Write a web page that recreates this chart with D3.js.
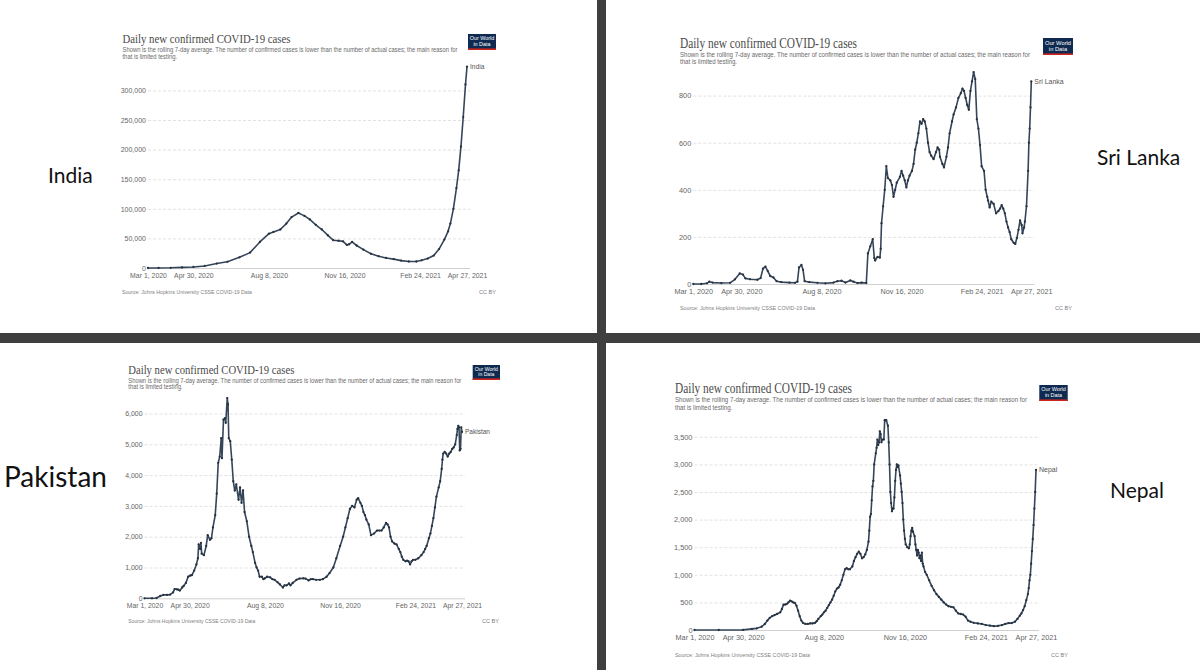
<!DOCTYPE html>
<html><head><meta charset="utf-8">
<script src="https://cdn.jsdelivr.net/npm/d3@7"></script>
<style>body{margin:0;background:#fff;} svg{display:block;}</style>
</head><body>
<svg id="chart" width="1200" height="670"></svg>
<script>
// ---------- data ----------
const startDate = "2020-03-01";
const endDate = "2021-04-27";
const tickDates = ["2020-03-01","2020-04-30","2020-08-08","2020-11-16","2021-02-24","2021-04-27"];
const titleText = "Daily new confirmed COVID-19 cases";
const subtitleLines = ["Shown is the rolling 7-day average. The number of confirmed cases is lower than the number of actual cases; the main reason for","that is limited testing."];
const sourceText = "Source: Johns Hopkins University CSSE COVID-19 Data";
const licenseText = "CC BY";
const countryNames = ["India","Sri Lanka","Pakistan","Nepal"];

const indiaTicks = [0,50000,100000,150000,200000,250000,300000];
const sriLankaTicks = [0,200,400,600,800];
const pakistanTicks = [0,1000,2000,3000,4000,5000,6000];
const nepalTicks = [0,500,1000,1500,2000,2500,3000,3500];

// days since Mar 1, 2020
const indiaDays = [0,14,30,45,60,75,91,105,121,135,148,160,166,175,183,190,199,207,214,222,230,238,245,252,258,263,266,270,276,285,295,305,315,325,335,345,355,362,370,378,385,392,397,400,404,408,411,414,417,420,422];
const indiaCases = [0,100,300,1000,1800,3500,7500,10500,18000,26000,44000,58000,61000,65000,75000,86000,93000,88000,82000,73000,65000,55000,47000,46000,45000,39000,40000,44000,38000,31000,24000,20000,17000,15000,12500,11000,11000,13000,16000,21000,32000,48000,62000,75000,100000,135000,165000,205000,255000,310000,340000];

const sriLankaDays = [0,10,17,20,24,35,46,52,58,62,65,71,80,84,87,90,93,96,100,104,110,120,127,130,132,135,137,139,145,155,165,175,180,185,190,196,200,205,210,216,218,221,224,226,227,230,233,234,235,237,239,241,243,246,248,250,252,254,258,260,262,264,266,268,270,273,275,277,279,281,283,285,287,289,291,293,295,297,300,303,305,307,308,311,313,316,318,320,323,325,328,331,334,336,338,340,342,344,346,348,350,352,354,356,358,360,363,365,367,368,370,372,375,378,381,383,385,387,389,391,393,395,397,400,402,404,406,408,410,411,413,414,416,418,419,420,421,422];
const sriLankaCases = [0,0,3,10,6,4,5,20,45,40,24,20,18,25,65,74,55,34,28,12,8,6,5,10,70,81,60,12,8,5,3,6,12,14,6,15,10,4,6,4,130,160,190,110,100,115,112,150,258,330,400,500,450,440,420,370,400,430,455,480,460,440,410,440,460,480,510,570,600,640,690,680,700,690,660,600,560,545,530,560,580,570,540,510,495,540,580,640,690,720,750,790,810,830,820,790,760,740,820,860,900,870,700,660,590,500,480,400,370,355,325,350,340,300,310,320,335,320,300,265,240,220,190,175,170,195,230,270,250,215,240,265,330,480,600,660,750,860];

const pakistanDays = [0,10,16,21,25,30,34,38,40,43,45,47,50,52,55,58,61,63,66,69,71,72,74,75,76,79,82,84,87,89,91,94,96,98,100,102,103,105,107,108,110,111,112,114,116,118,120,122,125,127,129,131,133,136,139,142,144,147,149,151,153,156,158,160,163,167,170,173,177,180,184,186,189,192,194,197,202,206,211,214,218,221,224,228,233,237,242,246,251,255,260,264,267,270,273,276,279,282,284,287,289,291,293,295,298,301,305,309,312,315,318,321,323,325,327,329,332,335,338,340,342,344,347,349,351,353,355,357,360,364,368,371,373,375,378,380,382,384,386,388,391,393,395,396,397,399,401,403,405,407,409,411,413,415,416,417,418,419,420,421,422];
const pakistanCases = [0,0,10,75,110,110,120,190,300,290,280,250,350,400,500,700,740,750,900,1100,1300,1750,1600,1800,1450,1400,1700,2050,1900,1950,2300,2700,3400,4400,4600,5200,4550,5800,5850,5700,6500,6300,5200,5100,4500,3800,3500,3700,3200,3600,3100,3500,2800,2500,2000,1700,1500,1150,1000,900,700,700,620,650,700,680,620,600,520,450,350,420,420,480,420,500,600,640,650,640,580,620,620,600,600,620,700,820,1000,1300,1700,2000,2300,2600,2900,3000,2950,3200,3250,3100,3000,2800,2700,2550,2400,2050,2100,2200,2200,2200,2300,2450,2400,2300,2000,1850,1780,1750,1600,1500,1350,1250,1200,1220,1200,1100,1200,1250,1250,1300,1400,1500,1600,1700,1950,2100,2350,2600,2950,3300,3600,3800,4200,4500,4700,4750,4700,4600,4700,4750,4850,4900,5000,5300,5500,5600,5550,4800,4850,5550,5400];

const nepalDays = [0,30,60,71,77,83,87,90,93,96,99,102,106,108,110,112,114,116,118,120,122,124,126,128,130,132,134,137,140,143,146,149,151,153,156,158,160,162,164,166,168,170,172,174,176,178,180,182,184,186,188,190,192,195,197,199,201,203,205,207,209,211,213,215,216,217,218,219,220,221,222,224,225,226,227,228,229,230,231,232,234,235,236,237,239,240,241,242,243,244,245,246,247,248,249,250,251,252,254,255,256,257,258,259,260,261,263,265,266,267,268,269,270,272,273,274,275,276,277,278,279,280,281,282,283,285,287,290,293,296,299,302,305,308,311,314,317,320,323,326,329,332,335,338,341,345,350,355,360,365,370,375,380,384,388,392,396,399,402,404,406,408,410,412,413,414,415,416,417,418,419,420,421,422];
const nepalCases = [0,0,2,20,30,60,110,170,220,250,270,290,320,380,460,460,470,500,530,520,500,490,440,350,250,170,130,110,110,120,120,130,160,200,250,280,320,350,400,450,500,550,620,700,750,770,820,900,1000,1100,1120,1100,1100,1150,1250,1320,1380,1420,1380,1300,1320,1370,1450,1600,1800,2050,2100,2350,2600,2700,3000,3200,3300,3450,3350,3400,3600,3550,3400,3450,3450,3800,3800,3800,3700,3400,3000,2500,2300,2150,2200,2200,2400,2700,2900,3000,2950,2980,2800,2650,2500,2300,2000,1800,1650,1550,1500,1480,1550,1700,1800,1850,1780,1700,1550,1450,1350,1450,1400,1300,1350,1250,1400,1200,1150,1050,1000,900,800,720,650,600,550,500,460,430,420,410,350,300,290,280,240,170,150,130,120,110,90,80,70,75,90,110,125,125,150,200,260,300,360,430,540,650,760,900,1000,1200,1430,1650,1900,2200,2500,2900];

// ---------- layout ----------
const panels = [
  {name:countryNames[0], days:indiaDays, vals:indiaCases, ticks:indiaTicks,
   tx:122.5, ty:43, tw:168, sy:[52,59], sw:335, logo:[468,34,28,16],
   x0:148, x1:467, y0:268, yTop:90.4, srcX:122, srcY:293.5, srcW:130, ccX:496, k:1,
   side:[48,182.5,21]},
  {name:countryNames[1], days:sriLankaDays, vals:sriLankaCases, ticks:sriLankaTicks,
   tx:680, ty:47.5, tw:177, sy:[56.8,63.6], sw:350, logo:[1043,38,30,17],
   x0:693.3, x1:1031.3, y0:284, yTop:95.6, srcX:680, srcY:310, srcW:135, ccX:1072, k:1.05,
   side:[1097,165,21]},
  {name:countryNames[2], days:pakistanDays, vals:pakistanCases, ticks:pakistanTicks,
   tx:128.3, ty:374, tw:166, sy:[382.5,389.2], sw:333, logo:[472.7,365,27.3,15],
   x0:144.5, x1:462, y0:598.3, yTop:413.5, srcX:128.3, srcY:623, srcW:127, ccX:499, k:0.99,
   side:[4,487,28]},
  {name:countryNames[3], days:nepalDays, vals:nepalCases, ticks:nepalTicks,
   tx:675, ty:392.7, tw:177, sy:[402.3,409.6], sw:352, logo:[1039.3,385,28.4,16],
   x0:694.5, x1:1036, y0:630, yTop:436.8, srcX:675, srcY:657, srcW:135, ccX:1068, k:1.06,
   side:[1110,498,21]}
];

const svg = d3.select("#chart");
svg.append("rect").attr("width",1200).attr("height",670).attr("fill","#fff");
const parse = d3.timeParse("%Y-%m-%d");
const LINE = "#36465a";
const SANS = "'Liberation Sans', Arial, sans-serif";

function squeeze(sel, target){
  sel.attr("textLength", target).attr("lengthAdjust","spacingAndGlyphs");
}

panels.forEach(p => {
  const g = svg.append("g");
  const x = d3.scaleTime().domain([parse(startDate), parse(endDate)]).range([p.x0, p.x1]);
  const y = d3.scaleLinear().domain([0, d3.max(p.ticks)]).range([p.y0, p.yTop]);

  // title
  const t = g.append("text").attr("x",p.tx).attr("y",p.ty)
    .attr("font-family","'Liberation Serif', serif").attr("font-size",13.5*p.k)
    .attr("fill","#4a4a4a").text(titleText);
  squeeze(t, p.tw);
  const s1 = g.append("text").attr("x",p.tx).attr("y",p.sy[0])
    .attr("font-family",SANS).attr("font-size",6.6*p.k).attr("fill","#6a6a6a").text(subtitleLines[0]);
  const natural = s1.node().getComputedTextLength();
  squeeze(s1, p.sw);
  const s2 = g.append("text").attr("x",p.tx).attr("y",p.sy[1])
    .attr("font-family",SANS).attr("font-size",6.6*p.k).attr("fill","#6a6a6a").text(subtitleLines[1]);
  squeeze(s2, s2.node().getComputedTextLength()*p.sw/natural);

  // logo
  const [lx,ly,lw,lh] = p.logo;
  g.append("rect").attr("x",lx).attr("y",ly).attr("width",lw).attr("height",lh).attr("fill","#0f2a50");
  g.append("rect").attr("x",lx).attr("y",ly+lh-1.6).attr("width",lw).attr("height",1.6).attr("fill","#ce261e");
  g.append("text").attr("x",lx+lw/2).attr("y",ly+lh*0.4).attr("text-anchor","middle")
    .attr("font-family",SANS).attr("font-size",lh*0.34).attr("fill","#fff").text("Our World");
  g.append("text").attr("x",lx+lw/2).attr("y",ly+lh*0.76).attr("text-anchor","middle")
    .attr("font-family",SANS).attr("font-size",lh*0.34).attr("fill","#fff").text("in Data");

  // y axis + grid
  const ya = g.append("g").attr("transform",`translate(${p.x0},0)`)
    .call(d3.axisLeft(y).tickValues(p.ticks).tickSize(-(p.x1-p.x0+3)).tickPadding(2).tickFormat(d3.format(",")));
  ya.select(".domain").remove();
  ya.selectAll(".tick line").attr("stroke","#dadada").attr("stroke-dasharray","3,2").attr("stroke-width",0.8);
  ya.selectAll(".tick line").filter(d => d === 0).attr("stroke","#c4c4c4").attr("stroke-dasharray",null);
  ya.selectAll(".tick text").attr("font-family",SANS).attr("font-size",7*p.k).attr("fill","#666");

  // x axis
  const xa = g.append("g").attr("transform",`translate(0,${p.y0})`)
    .call(d3.axisBottom(x).tickValues(tickDates.map(parse)).tickSize(0).tickPadding(5).tickFormat(d3.timeFormat("%b %-d, %Y")));
  xa.select(".domain").remove();
  xa.selectAll(".tick text").attr("font-family",SANS).attr("font-size",6.9*p.k).attr("fill","#666");

  // series
  const pts = p.days.map((d,i) => ({date:d3.timeDay.offset(parse(startDate), d), v:p.vals[i]}));
  g.append("path").datum(pts)
    .attr("d", d3.line().x(q => x(q.date)).y(q => y(q.v)))
    .attr("fill","none").attr("stroke",LINE).attr("stroke-width",1.6).attr("stroke-linejoin","round");
  g.selectAll("circle.pt").data(pts).enter().append("circle").attr("class","pt")
    .attr("cx", q => x(q.date)).attr("cy", q => y(q.v)).attr("r",1.15).attr("fill","#26313f");

  // end label
  const last = pts[pts.length-1];
  g.append("text").attr("x", x(last.date)+3).attr("y", y(last.v)).attr("dy","0.35em")
    .attr("font-family",SANS).attr("font-size",6.6*p.k).attr("fill","#555").text(p.name);

  // source + license
  const src = g.append("text").attr("x",p.srcX).attr("y",p.srcY)
    .attr("font-family",SANS).attr("font-size",5.8).attr("fill","#808080").text(sourceText);
  squeeze(src, p.srcW);
  g.append("text").attr("x",p.ccX).attr("y",p.srcY).attr("text-anchor","end")
    .attr("font-family",SANS).attr("font-size",5.6).attr("fill","#808080").text(licenseText);

  // side label
  svg.append("text").attr("x",p.side[0]).attr("y",p.side[1])
    .attr("font-family","Lato, 'Noto Sans', sans-serif").attr("font-size",p.side[2]).attr("fill","#111").text(p.name);
});

// dividers
svg.append("rect").attr("x",597).attr("y",0).attr("width",9).attr("height",670).attr("fill","#3f3f3f");
svg.append("rect").attr("x",0).attr("y",333).attr("width",1200).attr("height",10).attr("fill","#3f3f3f");
</script>
</body></html>
